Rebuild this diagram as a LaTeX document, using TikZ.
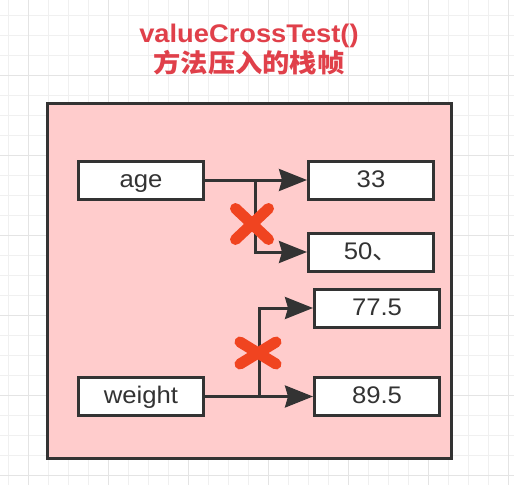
\documentclass[tikz,border=0pt]{standalone}
\usepackage{fontspec}
\usepackage{graphicx}
\setmainfont{Liberation Sans}
\newfontfamily\cjk{Noto Sans CJK SC}
\usetikzlibrary{arrows.meta}
\definecolor{framefill}{HTML}{FFCCCC}
\definecolor{ink}{HTML}{333333}
\definecolor{titlered}{HTML}{E0404A}
\definecolor{xred}{HTML}{F04420}
\definecolor{gridminor}{HTML}{F0F0F0}
\definecolor{gridmajor}{HTML}{E4E4E4}
\newcommand{\hstretch}[1]{\scalebox{1.07}[1]{#1}}
\begin{document}
\begin{tikzpicture}[x=1pt,y=-1pt,
  valbox/.style={draw=ink, line width=3pt, fill=white, minimum width=125pt, minimum height=38pt,
    inner sep=0pt, text height=14pt, text depth=0pt, font=\fontsize{24}{24}\selectfont, text=ink},
  conn/.style={draw=ink, line width=3pt},
  arr/.style={conn, -{Stealth[length=28pt 0 0,width=22pt 0 0,inset=3pt 0]}},
  cross/.style={draw=xred, line width=11pt, line cap=round},
  titletext/.style={text=titlered, font=\fontsize{25.5}{25.5}\selectfont\bfseries, inner sep=0pt, anchor=base}
]
\useasboundingbox (0,0) rectangle (514,485);
\fill[white] (0,0) rectangle (514,485);
% grid
\foreach \x in {8,28,...,508} \draw[gridminor, line width=1pt] (\x,0) -- (\x,485);
\foreach \y in {15,35,...,475} \draw[gridminor, line width=1pt] (0,\y) -- (514,\y);
\foreach \x in {28,108,...,508} \draw[gridmajor, line width=1pt] (\x,0) -- (\x,485);
\foreach \y in {75,155,...,475} \draw[gridmajor, line width=1pt] (0,\y) -- (514,\y);
% title
\node[titletext] (title1) at (249,42) {\hstretch{valueCrossTest()}};
\node[titletext] (title2) at (249,72) {\hstretch{\cjk\bfseries 方法压入的栈帧}};
% frame
\node[draw=ink, line width=3pt, fill=framefill, minimum width=404pt, minimum height=355pt, inner sep=0pt] (frame) at (249.5,281) {};
% boxes
\node[valbox] (age) at (141,180) {\hstretch{age}};
\node[valbox] (n33) at (371,180) {\hstretch{33}};
\node[valbox] (n50) at (371,252) {\hstretch{50\cjk 、}};
\node[valbox] (n77) at (377,308) {\hstretch{77.5}};
\node[valbox] (weight) at (141,396.5) {\hstretch{weight}};
\node[valbox] (n89) at (377,396.5) {\hstretch{89.5}};
% connectors
\coordinate (b1) at (255,180);
\coordinate (b2) at (259,396.5);
\draw[arr] (age.east) -- (n33.west);
\draw[arr] (b1) |- (n50.west);
\draw[arr] (weight.east) -- (n89.west);
\draw[arr] (b2) |- (n77.west);
% crosses
\draw[cross] (235.5,208.5) -- (268.5,239.5) (235.5,239.5) -- (268.5,208.5);
\draw[cross] (240,342) -- (276,364) (240,364) -- (276,342);
\end{tikzpicture}
\end{document}
